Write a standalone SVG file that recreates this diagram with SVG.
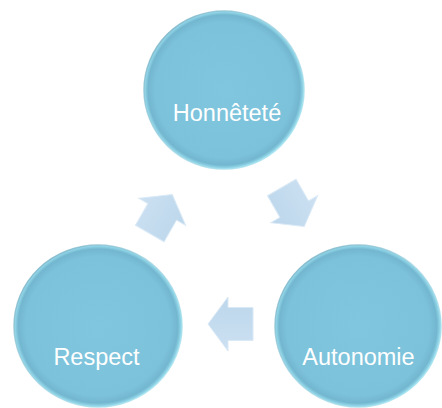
<svg xmlns="http://www.w3.org/2000/svg" width="442" height="408" viewBox="0 0 442 408">
  <defs>
    <radialGradient id="ball" cx="0.5" cy="0.5" r="0.5" fx="0.5" fy="0.5">
      <stop offset="0" stop-color="#80C6DE"/>
      <stop offset="0.86" stop-color="#7CC2DA"/>
      <stop offset="0.95" stop-color="#72B7CF"/>
      <stop offset="0.985" stop-color="#8FD3E6"/>
      <stop offset="1" stop-color="#B5EAF5"/>
    </radialGradient>
    <linearGradient id="rim" x1="0" y1="0" x2="1" y2="1">
      <stop offset="0" stop-color="#6FA9BE" stop-opacity="0.9"/>
      <stop offset="0.5" stop-color="#8CC9DA" stop-opacity="0.6"/>
      <stop offset="1" stop-color="#A9EAF7" stop-opacity="0.9"/>
    </linearGradient>
    <linearGradient id="arr" x1="0" y1="0" x2="0" y2="1">
      <stop offset="0" stop-color="#CCE1F2"/>
      <stop offset="1" stop-color="#BCD6EB"/>
    </linearGradient>
    <path id="arrowShape" d="M -22.5 -16.5 L 2.5 -16.5 L 2.5 -27 L 22.5 0 L 2.5 27 L 2.5 16.5 L -22.5 16.5 Z"/>
  </defs>
  <style>
    .node { fill: url(#ball); stroke: url(#rim); stroke-width: 1.5; }
    .label { font-family: "Liberation Sans", Arial, sans-serif; font-size: 23.5px; fill: #FFFFFF; text-anchor: middle; }
    .arrow { fill: url(#arr); stroke: #D9E9F6; stroke-width: 1; stroke-linejoin: miter; }
  </style>
  <rect width="442" height="408" fill="#FFFFFF"/>

  <g id="connectors">
    <use href="#arrowShape" class="arrow" transform="translate(293,207) rotate(60)"/>
    <use href="#arrowShape" class="arrow" transform="translate(230.5,324) rotate(180)"/>
    <use href="#arrowShape" class="arrow" transform="translate(161,214) rotate(-60)"/>
  </g>

  <g id="node-honnetete">
    <ellipse class="node" cx="224" cy="90" rx="80" ry="79"/>
    <text class="label" x="227" y="121">Honnêteté</text>
  </g>

  <g id="node-autonomie">
    <ellipse class="node" cx="358" cy="326" rx="83" ry="81"/>
    <text class="label" x="358.5" y="365">Autonomie</text>
  </g>

  <g id="node-respect">
    <ellipse class="node" cx="98" cy="326" rx="84" ry="81"/>
    <text class="label" x="96.5" y="365">Respect</text>
  </g>
</svg>
